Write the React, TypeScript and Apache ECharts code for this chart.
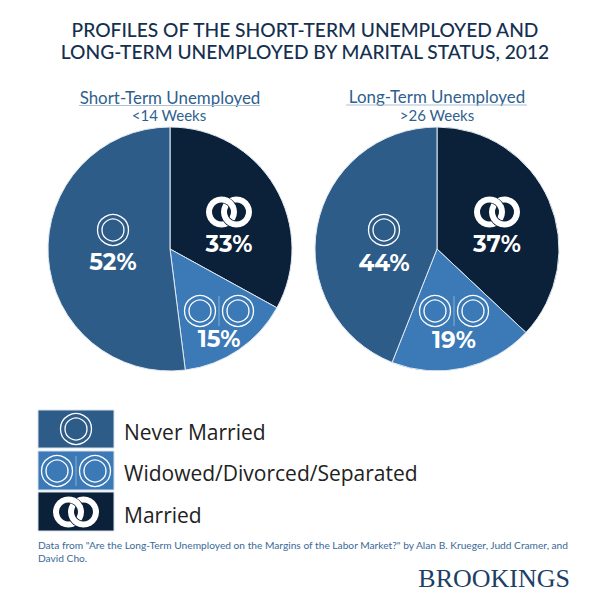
import React, { useEffect, useRef } from "react";
import * as echarts from "echarts";

const categories = ["Married", "Widowed/Divorced/Separated", "Never Married"];
const shortTermValues = [33, 15, 52];
const longTermValues = [37, 19, 44];
const legendLabels = ["Never Married", "Widowed/Divorced/Separated", "Married"];
const colors: Record<string, string> = {
  Married: "#0b2039",
  "Widowed/Divorced/Separated": "#3b7ab6",
  "Never Married": "#2e5c88",
};
const titleLines = [
  "PROFILES OF THE SHORT-TERM UNEMPLOYED AND",
  "LONG-TERM UNEMPLOYED BY MARITAL STATUS, 2012",
];
const sourceLines = [
  'Data from "Are the Long-Term Unemployed on the Margins of the Labor Market?" by Alan B. Krueger, Judd Cramer, and',
  "David Cho.",
];

const doubleRing = (cx: number, cy: number, z = 10) => [
  { type: "circle", z, shape: { cx, cy, r: 15.5 }, style: { fill: "none", stroke: "#fff", lineWidth: 1.3 } },
  { type: "circle", z, shape: { cx, cy, r: 11 }, style: { fill: "none", stroke: "#fff", lineWidth: 1.3 } },
];
const widowed = (cx: number, cy: number, z = 10) => [
  ...doubleRing(cx - 19, cy, z),
  ...doubleRing(cx + 19, cy, z),
  { type: "line", z, shape: { x1: cx, y1: cy - 15, x2: cx, y2: cy + 15 }, style: { stroke: "rgba(255,255,255,0.4)", lineWidth: 1 } },
];
const linked = (cx: number, cy: number, bg: string, z = 10) => [
  { type: "ring", z, shape: { cx: cx - 7.5, cy, r: 15.5, r0: 9.5 }, style: { fill: "#fff" } },
  { type: "ring", z: z + 1, shape: { cx: cx + 7.5, cy, r: 16.2, r0: 8.7 }, style: { fill: bg } },
  { type: "ring", z: z + 2, shape: { cx: cx + 7.5, cy, r: 15.5, r0: 9.5 }, style: { fill: "#fff" } },
  { type: "arc", z: z + 3, shape: { cx: cx - 7.5, cy, r: 12.5, startAngle: -1.3, endAngle: -0.5 }, style: { fill: "none", stroke: bg, lineWidth: 7.4 } },
  { type: "arc", z: z + 4, shape: { cx: cx - 7.5, cy, r: 12.5, startAngle: -1.4, endAngle: -0.4 }, style: { fill: "none", stroke: "#fff", lineWidth: 6 } },
];

const pie = (values: number[], cx: number, positions: number[][]) => ({
  type: "pie",
  center: [cx, 249],
  radius: [0, 122],
  startAngle: 90,
  clockwise: true,
  silent: true,
  itemStyle: { borderColor: "#dfe8f1", borderWidth: 1 },
  label: {
    show: true,
    position: "inside",
    formatter: "{c}%",
    color: "#fff",
    fontFamily: "Montserrat, Lato, sans-serif",
    fontWeight: 700,
    fontSize: 23,
  },
  labelLine: { show: false },
  labelLayout: (p: any) => ({
    x: positions[p.dataIndex][0],
    y: positions[p.dataIndex][1],
    align: "center",
    verticalAlign: "middle",
  }),
  data: categories.map((name, i) => ({
    name,
    value: values[i],
    itemStyle: { color: colors[name] },
  })),
});

export default function App() {
  const ref = useRef<HTMLDivElement>(null);
  useEffect(() => {
    document.body.style.margin = "0";
    const chart = echarts.init(ref.current!, null, { renderer: "svg" });
    const titleStyle = { fill: "#14304f", fontFamily: "Lato, sans-serif", fontSize: 19.2, fontWeight: 500, align: "center", verticalAlign: "middle" };
    const subStyle = { fill: "#2f5f8f", fontFamily: "Lato, sans-serif", fontSize: 16.9, align: "center", verticalAlign: "middle" };
    const weeksStyle = { ...subStyle, fontSize: 15 };
    const legendStyle = { fill: "#222", fontFamily: "'Open Sans', sans-serif", fontSize: 21, verticalAlign: "middle" };
    const sourceStyle = { fill: "#3a6a98", fontFamily: "Lato, sans-serif", fontSize: 10.2, verticalAlign: "middle" };
    const graphic: any[] = [
      { type: "text", style: { ...titleStyle, text: titleLines[0], x: 305, y: 29 } },
      { type: "text", style: { ...titleStyle, text: titleLines[1], x: 305, y: 51 } },
      { type: "text", style: { ...subStyle, text: "Short-Term Unemployed", x: 170, y: 97 } },
      { type: "line", shape: { x1: 79, y1: 105.5, x2: 260, y2: 105.5 }, style: { stroke: "#a9c0d6", lineWidth: 1 } },
      { type: "text", style: { ...weeksStyle, text: "<14 Weeks", x: 169, y: 115 } },
      { type: "text", style: { ...subStyle, text: "Long-Term Unemployed", x: 437, y: 96 } },
      { type: "line", shape: { x1: 346, y1: 105, x2: 527, y2: 105 }, style: { stroke: "#a9c0d6", lineWidth: 1 } },
      { type: "text", style: { ...weeksStyle, text: ">26 Weeks", x: 437, y: 115 } },
      ...linked(229, 212, colors.Married),
      ...doubleRing(113, 230),
      ...widowed(219, 311),
      ...linked(497, 212, colors.Married),
      ...doubleRing(384, 230),
      ...widowed(454, 311),
      { type: "rect", shape: { x: 38, y: 410, width: 76, height: 38 }, style: { fill: colors["Never Married"], stroke: "#d5e0ea", lineWidth: 1 } },
      { type: "rect", shape: { x: 38, y: 451, width: 76, height: 39 }, style: { fill: colors["Widowed/Divorced/Separated"], stroke: "#d5e0ea", lineWidth: 1 } },
      { type: "rect", shape: { x: 38, y: 492, width: 76, height: 39 }, style: { fill: colors.Married, stroke: "#d5e0ea", lineWidth: 1 } },
      ...doubleRing(76, 429, 11),
      ...widowed(76, 471, 11),
      ...linked(76, 512, colors.Married, 11),
      { type: "text", style: { ...legendStyle, text: legendLabels[0], x: 124, y: 432 } },
      { type: "text", style: { ...legendStyle, text: legendLabels[1], x: 124, y: 473 } },
      { type: "text", style: { ...legendStyle, text: legendLabels[2], x: 124, y: 515 } },
      { type: "text", style: { ...sourceStyle, text: sourceLines[0], x: 38, y: 545 } },
      { type: "text", style: { ...sourceStyle, text: sourceLines[1], x: 38, y: 558 } },
      { type: "text", style: { fill: "#1d3f66", fontFamily: "'Liberation Serif', serif", fontSize: 26, text: "BROOKINGS", x: 570, y: 578, align: "right", verticalAlign: "middle" } },
    ];
    chart.setOption({
      animation: false,
      series: [
        pie(shortTermValues, 170, [[229, 244], [219, 339], [113, 262]]),
        pie(longTermValues, 437, [[497, 244], [454, 340], [384, 263]]),
      ],
      graphic,
    });
    return () => chart.dispose();
  }, []);
  return <div ref={ref} style={{ width: 607, height: 607 }} />;
}
